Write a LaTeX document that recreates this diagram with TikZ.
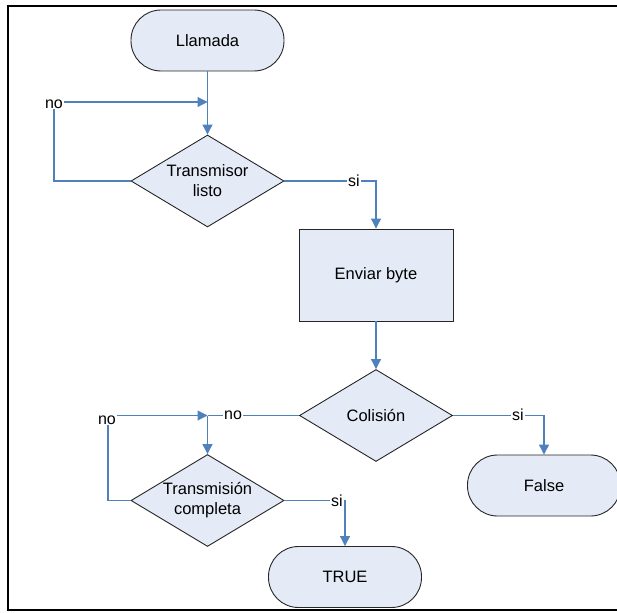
\documentclass[tikz,border=0pt]{standalone}
\usepackage{fontspec}
\setmainfont{Liberation Sans}
\usetikzlibrary{shapes.geometric,arrows.meta}
\definecolor{flowblue}{RGB}{79,129,189}
\definecolor{boxfill}{RGB}{228,235,247}
\begin{document}
\begin{tikzpicture}[x=1pt,y=-1pt,
  txt/.style={font=\fontsize{16.5}{20}\selectfont},
  term/.style={txt, draw=black!85, line width=0.9pt, fill=boxfill,
    rounded corners=30pt, minimum width=153pt, minimum height=61pt, inner sep=0pt},
  decision/.style={txt, diamond, aspect=1.663, draw=black!85, line width=0.9pt,
    fill=boxfill, minimum width=153pt, minimum height=92pt, inner sep=0pt, align=center},
  process/.style={txt, rectangle, draw=black!85, line width=0.9pt, fill=boxfill,
    minimum width=154pt, minimum height=92pt, inner sep=0pt},
  link/.style={draw=flowblue, line width=1.1pt},
  flow/.style={link, -{Triangle[width=10pt,length=10pt]}},
  lbl/.style={fill=white, inner sep=1pt, font=\fontsize{16}{19}\selectfont}]
\useasboundingbox (0,0) rectangle (617,612);
\clip (0,0) rectangle (617,612);

% frame
\draw[line width=2pt] (617,6) -- (8,6) -- (8,610) -- (617,610);

% blocks
\node[term] (call) at (207.5,40.5) {Llamada};
\node[decision] (ready) at (207.5,181) {Transmisor\\listo};
\node[process] (send) at (376,275) {Enviar byte};
\node[decision] (coll) at (376,415.5) {Colisión};
\node[term] (false) at (544,485.5) {False};
\node[decision] (done) at (207.5,500.5) {Transmisión\\completa};
\node[term] (true) at (345,577) {TRUE};

% junctions and corners
\coordinate (j1) at (207.5,102);
\coordinate (j2) at (207.5,415.5);
\coordinate (c1) at (54,181);
\coordinate (c2) at (54,102);
\coordinate (c3) at (108,500.5);
\coordinate (c4) at (108,415.5);

% connectors
\draw[flow] (call) -- (ready);
\draw[flow] (ready.west) -- (c1) -- (c2) -- (j1);
\draw[flow] (ready.east) -| (send.north);
\draw[flow] (send) -- (coll);
\draw[flow] (coll.east) -| (false.north);
\draw[link] (coll.west) -- (j2);
\draw[flow] (j2) -- (done.north);
\draw[flow] (done.west) -- (c3) -- (c4) -- (j2);
\draw[flow] (done.east) -| (true.north);

% branch labels
\node[lbl] (no1) at (54,104) {no};
\node[lbl] (si1) at (354,181) {si};
\node[lbl] (no2) at (233,415) {no};
\node[lbl] (si2) at (518,415) {si};
\node[lbl] (no3) at (107,420) {no};
\node[lbl] (si3) at (337,500.5) {si};
\end{tikzpicture}
\end{document}
